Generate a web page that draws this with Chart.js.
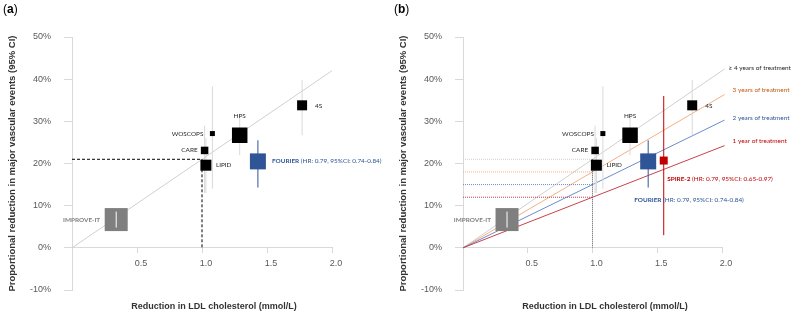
<!DOCTYPE html>
<html>
<head>
<meta charset="utf-8">
<script src="https://cdn.jsdelivr.net/npm/chart.js@4.4.0/dist/chart.umd.min.js"></script>
<style>
  body { margin: 0; background: #fff; }
  #wrap { position: relative; width: 794px; height: 315px; }
  canvas { position: absolute; top: 0; }
</style>
</head>
<body>
<div id="wrap">
  <canvas id="chartA" width="391" height="315" style="left:0"></canvas>
  <canvas id="chartB" width="403" height="315" style="left:391px"></canvas>
</div>
<script>
// trial results
var studies   = ['IMPROVE-IT', 'WOSCOPS', 'CARE', 'LIPID', 'HPS', '4S', 'FOURIER'];
var ldlDrop   = [0.34, 1.08, 1.02, 1.03, 1.29, 1.77, 1.43];   // mmol/L
var riskDrop  = [6.7, 27.1, 23.1, 19.6, 26.7, 33.8, 20.5];   // %
var ciLow     = [4.8, 14, 13, 13, 22, 26.7, 14.3];
var ciHigh    = [8.6, 38.3, 29, 26, 31.7, 39.8, 25.5];

var spireName = 'SPIRE-2';
var spireLdl  = 1.55;
var spireDrop = 20.7;
var spireCi   = [3, 36];

var fourierNote = ' (HR: 0.79, 95%CI: 0.74-0.84)';
var spireNote   = ' (HR: 0.79, 95%CI: 0.65-0.97)';

// CTT-style lines: % reduction per mmol/L by treatment duration
var years    = ['1 year of treatment', '2 years of treatment', '3 years of treatment', '\u2265 4 years of treatment'];
var perMmol  = [12, 15, 18, 21];
var lineEnd  = 2.02;

var xTicks = [0.5, 1.0, 1.5, 2.0];
var yTicks = [-10, 0, 10, 20, 30, 40, 50];

var xTitle = 'Reduction in LDL cholesterol (mmol/L)';
var yTitle = 'Proportional reduction in major vascular events (95% CI)';

/////////////////////////////////////////////////////////
// styles

var side      = [23, 5, 7.5, 11, 15.5, 10, 16];   // marker side, px
var markColor = ['#7f7f7f', '#000', '#000', '#000', '#000', '#000', '#2f5597'];
var ciColor   = ['#ffffff', '#d9d9d9', '#d9d9d9', '#d9d9d9', '#d9d9d9', '#d9d9d9', '#2f5597'];
var yearLine  = ['#c9414b', '#6b8ccc', '#f4b183', '#d0d0d0'];
var yearText  = ['#c00000', '#2f5597', '#c55a11', '#262626'];
var yearDx    = [8, 8, 8, 4];
var yearDy    = [-5, -2, -5, -1];
var red = '#c00000';
var blue = '#2f5597';

// label offsets from marker centre: dx, dy, align
var tagPos = {
  'IMPROVE-IT': [-16, 0, 'right'],
  'WOSCOPS': [-9, 0, 'right'],
  'CARE': [-7, 0, 'right'],
  'LIPID': [10, 0, 'left'],
  'HPS': [0, -19, 'center'],
  '4S': [13, 1, 'left']
};

var labelFont = '6.4px Lato';
var axisFont = 'Liberation Sans';

function seg(x1, y1, x2, y2) {
  return [{x: x1, y: y1}, {x: x2, y: y2}];
}

function lineSet(data, color, dash, order) {
  return {
    data: data, showLine: true, borderColor: color, borderWidth: 1,
    borderDash: dash || [], pointRadius: 0, order: order, clip: false
  };
}

function drawRuns(ctx, runs, px, py, align) {
  var total = 0;
  runs.forEach(function (r) {
    ctx.font = (r.bold ? 'bold ' : '') + labelFont;
    r.w = ctx.measureText(r.text).width;
    total += r.w;
  });
  var sx = align === 'right' ? px - total : (align === 'center' ? px - total / 2 : px);
  ctx.textAlign = 'left';
  ctx.textBaseline = 'middle';
  runs.forEach(function (r) {
    ctx.font = (r.bold ? 'bold ' : '') + labelFont;
    ctx.fillStyle = r.color;
    ctx.fillText(r.text, sx, py);
    sx += r.w;
  });
}

function makeTags(items, panel) {
  return {
    id: 'tags' + panel,
    afterDatasetsDraw: function (chart) {
      var ctx = chart.ctx, x = chart.scales.x, y = chart.scales.y;
      ctx.save();
      items.forEach(function (it) {
        drawRuns(ctx, it.runs, x.getPixelForValue(it.x) + it.dx, y.getPixelForValue(it.y) + it.dy, it.align);
      });
      // x title
      ctx.font = 'bold 9px ' + axisFont;
      ctx.fillStyle = '#333';
      ctx.textAlign = 'center';
      ctx.textBaseline = 'middle';
      ctx.fillText(xTitle, chart.chartArea.left + 142, 307);
      // panel letter
      ctx.textAlign = 'left';
      ctx.font = '12px ' + axisFont;
      ctx.fillStyle = '#000';
      var w1 = ctx.measureText('(').width;
      ctx.fillText('(', 3, 10);
      ctx.font = 'bold 12px ' + axisFont;
      var w2 = ctx.measureText(panel).width;
      ctx.fillText(panel, 3 + w1, 10);
      ctx.font = '12px ' + axisFont;
      ctx.fillText(')', 3 + w1 + w2, 10);
      ctx.restore();
    }
  };
}

function makeChart(id, panel, padRight) {
  var datasets = [];
  var items = [];

  if (panel === 'a') {
    datasets.push(lineSet(seg(0, 0, 2.0, 2.0 * perMmol[3]), '#d0d0d0', null, 20));
    datasets.push(lineSet([{x: 0, y: 21}, {x: 1, y: 21}, {x: 1, y: 0}], '#000', [3, 2], 19));
  } else {
    for (var k = 0; k < years.length; k++) {
      datasets.push(lineSet(seg(0, 0, lineEnd, lineEnd * perMmol[k]), yearLine[k], null, 20));
      datasets.push(lineSet(seg(0, perMmol[k], 1, perMmol[k]), yearLine[k], [1, 1], 19));
      items.push({x: lineEnd, y: lineEnd * perMmol[k], dx: yearDx[k], dy: yearDy[k], align: 'left',
        runs: [{text: years[k], color: yearText[k]}]});
    }
    datasets.push(lineSet(seg(1, 21, 1, 0), '#555', [1, 1], 18));
  }

  // confidence intervals
  for (var i = 0; i < studies.length; i++) {
    datasets.push(lineSet(seg(ldlDrop[i], ciLow[i], ldlDrop[i], ciHigh[i]), ciColor[i], null, i === 0 ? 1 : 10));
  }

  // trial squares
  datasets.push({
    data: ldlDrop.map(function (v, i) { return {x: v, y: riskDrop[i]}; }),
    pointStyle: 'rect',
    pointRadius: side.map(function (s) { return s / Math.SQRT2; }),
    backgroundColor: markColor,
    borderWidth: 0,
    order: 5, clip: false
  });

  if (panel === 'b') {
    datasets.push(lineSet(seg(spireLdl, spireCi[0], spireLdl, spireCi[1]), red, null, 10));
    datasets.push({
      data: [{x: spireLdl, y: spireDrop}], pointStyle: 'rect', pointRadius: 8 / Math.SQRT2,
      backgroundColor: red, borderWidth: 0, order: 4, clip: false
    });
    items.push({x: spireLdl, y: spireDrop, dx: 3.5, dy: 18, align: 'left',
      runs: [{text: spireName, bold: true, color: red}, {text: spireNote, color: red}]});
  }

  for (var j = 0; j < studies.length; j++) {
    var name = studies[j];
    if (name === 'FOURIER') {
      var fp = panel === 'a' ? [14, 0] : [-14, 39];
      items.push({x: ldlDrop[j], y: riskDrop[j], dx: fp[0], dy: fp[1], align: 'left',
        runs: [{text: name, bold: true, color: blue}, {text: fourierNote, color: blue}]});
    } else {
      var p = tagPos[name];
      items.push({x: ldlDrop[j], y: riskDrop[j], dx: p[0], dy: p[1], align: p[2],
        runs: [{text: name, bold: name === 'IMPROVE-IT', color: name === 'IMPROVE-IT' ? '#7f7f7f' : '#262626'}]});
    }
  }

  return new Chart(document.getElementById(id), {
    type: 'scatter',
    data: {datasets: datasets},
    options: {
      responsive: false,
      animation: false,
      layout: {padding: {top: 37, bottom: 25, left: 0, right: padRight}},
      plugins: {legend: {display: false}, tooltip: {enabled: false}},
      scales: {
        x: {
          type: 'linear', min: 0, max: 2, position: {y: 0},
          afterBuildTicks: function (s) { s.ticks = xTicks.map(function (v) { return {value: v}; }); },
          grid: {drawOnChartArea: false, tickLength: 5, color: '#d9d9d9'},
          border: {color: '#d9d9d9'},
          ticks: {
            font: {family: axisFont, size: 9}, color: '#595959', padding: 5, labelOffset: 4,
            maxRotation: 0, autoSkip: false,
            callback: function (v) { return Number(v).toFixed(1); }
          }
        },
        y: {
          min: -10, max: 50,
          afterBuildTicks: function (s) { s.ticks = yTicks.map(function (v) { return {value: v}; }); },
          afterFit: function (s) { s.width = 72; },
          grid: {drawOnChartArea: false, tickLength: 8, color: '#d9d9d9'},
          border: {color: '#d9d9d9'},
          ticks: {
            font: {family: axisFont, size: 9}, color: '#595959', padding: 13,
            callback: function (v) { return v + '%'; }
          },
          title: {
            display: true, text: yTitle, color: '#333',
            font: {family: axisFont, size: 9.5, weight: 'bold'},
            padding: {top: 7, bottom: 0}
          }
        }
      }
    },
    plugins: [makeTags(items, panel)]
  });
}

makeChart('chartA', 'a', 59);
makeChart('chartB', 'b', 72);
</script>
</body>
</html>
